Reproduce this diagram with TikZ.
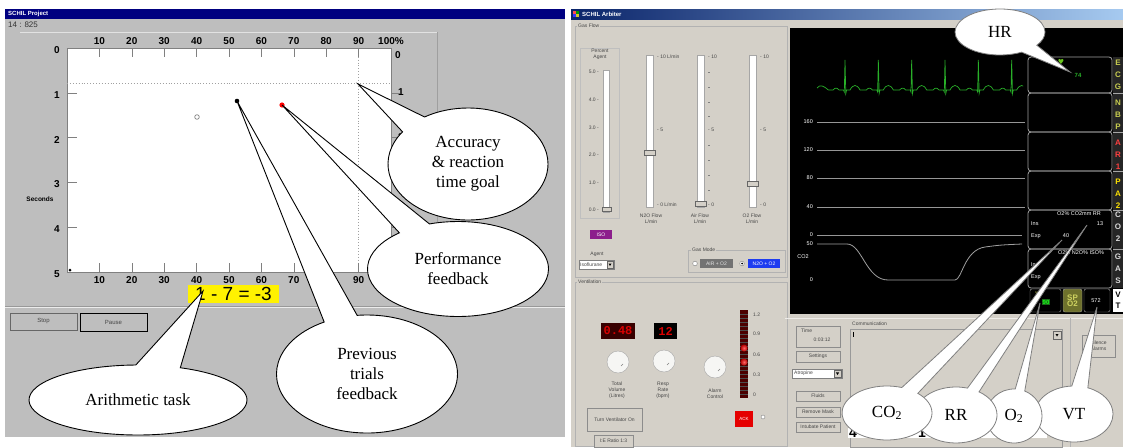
\documentclass[tikz,border=0pt]{standalone}
\usepackage{fontspec}
\setmainfont{Liberation Serif}
\setsansfont{Liberation Sans}
\setmonofont{Liberation Mono}
\newfontfamily\dejavu{DejaVu Sans}
\usetikzlibrary{shapes.callouts,shapes.geometric}
\definecolor{lpan}{RGB}{190,190,190}
\definecolor{rpan}{RGB}{212,208,200}
\definecolor{navy}{RGB}{0,0,128}
\definecolor{tbl}{RGB}{10,36,106}
\definecolor{tbr}{RGB}{166,202,240}
\definecolor{ecg}{RGB}{40,175,40}
\definecolor{dsh}{RGB}{160,160,160}
\definecolor{lbl}{RGB}{70,70,70}
\definecolor{olv}{RGB}{200,205,80}
\definecolor{isoc}{RGB}{140,30,140}
\definecolor{nbl}{RGB}{30,60,240}
\definecolor{monl}{RGB}{150,150,150}
\tikzset{
  tb/.style={font=\sffamily\bfseries\fontsize{6}{7}\selectfont, text=white, inner sep=0pt},
  axl/.style={font=\sffamily\bfseries\fontsize{10}{11}\selectfont, inner sep=0pt},
  ui/.style={font=\sffamily\fontsize{5}{6}\selectfont, text=lbl, inner sep=0pt, align=center},
  mon/.style={font=\sffamily\fontsize{5.5}{6}\selectfont, text=white, inner sep=0pt},
  monlet/.style={font=\sffamily\bfseries\fontsize{8}{8}\selectfont, inner sep=0pt},
  lbtn/.style={fill=lpan, draw=gray!80!black, font=\sffamily\fontsize{6}{7}\selectfont, text=lbl, inner sep=0pt},
  rbtn/.style={fill=rpan, draw=gray!90, font=\sffamily\fontsize{5}{6}\selectfont, text=lbl, inner sep=0pt, align=center},
  track/.style={fill=white, draw=gray!70},
  thumb/.style={fill=rpan, draw=gray!80!black},
  bcall/.style={ellipse callout, draw=black, line width=0.9pt, fill=white, inner sep=0pt, align=center,
    font=\fontsize{17}{20}\selectfont, callout pointer arc=22},
  gcall/.style={ellipse callout, draw=gray, line width=0.8pt, fill=white, inner sep=0pt, align=center,
    font=\fontsize{17}{20}\selectfont, callout pointer arc=20},
}
\begin{document}
\begin{tikzpicture}[x=1pt,y=-1pt]
\useasboundingbox (0,0) rectangle (1123,447);
\fill[white] (0,0) rectangle (1123,447);

% ================= LEFT PANEL =================
\fill[lpan] (5,9) rectangle (565,437);
\fill[navy] (5,9) rectangle (565,19);
\node[tb, anchor=west] (ltitle) at (8,14) {SCHIL Project};
\node[font=\sffamily\fontsize{8}{9}\selectfont, inner sep=0pt, anchor=west, text=black!80] (ltime) at (8,25) {14 : 825};
\draw[white!55!lpan] (20,32) -- (437,32);
\draw[gray!75] (437,32) -- (437,306);
\draw[gray!80] (5,306) -- (565,306);
\draw[white!70!lpan] (5,307.5) -- (565,307.5);

% plot
\fill[white] (67,48) rectangle (391,272);
\draw[gray, line width=0.8pt] (67,48) rectangle (391,272);
\draw[dsh, dotted, line width=0.9pt] (67,83) -- (391,83);
\draw[dsh, dotted, line width=0.9pt] (358,48) -- (358,272);
\foreach \k [evaluate=\k as \v using int(10*\k)] in {1,...,9} {
  \draw[gray] ({67+32.4*\k},48) -- ++(0,9);
  \draw[gray] ({67+32.4*\k},272) -- ++(0,-9);
  \node[axl] (tl\k) at ({67+32.4*\k},41) {\v};
  \node[axl] (bl\k) at ({67+32.4*\k},280) {\v};
}
\node[axl] (tl10) at (391,41) {100\%};
\foreach \s in {1,...,4} {
  \draw[gray] (67,{48+44.8*\s}) -- ++(10,0);
  \draw[gray] (391,{48+44.8*\s}) -- ++(9,0);
}
\foreach \s in {0,...,5} {
  \node[axl] (ll\s) at (57,{50+44.8*\s}) {\s};
}
\node[axl] (rl0) at (398,55) {0};
\node[axl] (rl1) at (401,92) {1};
\node[axl] (rl2) at (401,137) {2};
\node[font=\sffamily\bfseries\fontsize{6.5}{7}\selectfont, inner sep=0pt] (secs) at (40,199) {Seconds};
\fill[black] (70,270) circle (1.5);

% data points
\draw[gray, line width=0.7pt] (197,117) circle (2.3);
\fill[black] (237,101) circle (2.3);
\fill[red] (282,105) circle (2.6);
\coordinate (goal) at (358,84);
\coordinate (redpt) at (282,105);
\coordinate (blkpt) at (237,101);

% arithmetic task
\node[fill=yellow, minimum width=91, minimum height=18, inner sep=0pt,
      font=\sffamily\fontsize{19}{19}\selectfont] (task) at (233.5,294) {1 - 7 = -3};
\coordinate (tasktip) at (203,291);

% buttons
\node[lbtn, minimum width=67, minimum height=17] (stop) at (43.5,321.5) {Stop};
\node[lbtn, draw=black, line width=0.9pt, minimum width=67, minimum height=18] (pause) at (113.5,322) {Pause};

% ================= RIGHT PANEL =================
\fill[rpan] (571,9) rectangle (1123,447);
\shade[left color=tbl, right color=tbr] (571,9) rectangle (1123,19);
\fill[red!70] (573,11) rectangle (576,14);
\fill[green!60!black] (576,11) rectangle (579,14);
\fill[blue!80] (573,14) rectangle (576,17);
\fill[yellow!80!black] (576,14) rectangle (579,17);
\node[tb, anchor=west] (rtitle) at (582,14) {SCHIL Arbiter};

% gas flow group
\draw[gray!60] (575,26) rectangle (787,277);
\node[ui, fill=rpan, anchor=west, inner xsep=1pt] (gasflow) at (577,26) {Gas Flow};
\draw[gray!50] (580,48) rectangle (619,218);
\node[ui] (pagent) at (600,54.5) {Percent\\Agent};
\fill[track] (603,70) rectangle (609,212);
\draw[thumb] (602,207) rectangle (611,211);
\foreach \v/\yy in {5.0/72,4.0/100,3.0/128,2.0/155,1.0/183,0.0/210} {
  \node[ui, anchor=east] (pa\yy) at (599,\yy) {\v\ -};
}
% N2O
\fill[track] (646,55) rectangle (653,207);
\draw[thumb] (644,150) rectangle (655,155);
\node[ui, anchor=west] (n10) at (657,57) {- 10 L/min};
\node[ui, anchor=west] (n5) at (657,130) {- 5};
\node[ui, anchor=west] (n0) at (657,205) {- 0 L/min};
\node[ui] (nlab) at (651,219) {N2O Flow\\L/min};
% Air
\fill[track] (697,55) rectangle (704,207);
\draw[thumb] (695,201) rectangle (706,206);
\node[ui, anchor=west] (a10) at (708,57) {- 10};
\node[ui, anchor=west] (a5) at (708,130) {- 5};
\node[ui, anchor=west] (a0) at (708,205) {- 0};
\foreach \yy in {72,87,102,116,145,160,175,190} { \fill[gray] (708,\yy) rectangle (710,{\yy+0.8}); }
\node[ui] (alab) at (700,219) {Air Flow\\L/min};
% O2
\fill[track] (749,55) rectangle (756,207);
\draw[thumb] (747,181) rectangle (758,186);
\node[ui, anchor=west] (o10) at (760,57) {- 10};
\node[ui, anchor=west] (o5) at (760,130) {- 5};
\node[ui, anchor=west] (o0) at (760,205) {- 0};
\node[ui] (olab) at (752,219) {O2 Flow\\L/min};

\node[fill=isoc, minimum width=22, minimum height=9, inner sep=0pt,
      font=\sffamily\fontsize{5}{6}\selectfont, text=white] (iso) at (601,234.5) {ISO};
\node[ui] (agent) at (597,254) {Agent};
\node[draw=gray, fill=white, minimum width=35, minimum height=9, inner sep=0pt] (agentdd) at (596.5,264.5) {};
\node[ui, anchor=west] (isofl) at (580,264.5) {Isoflurane};
\draw[thumb] (607,261) rectangle (613,268);
\fill[black] (608.5,263.5) -- (611.5,263.5) -- (610,266) -- cycle;

\draw[gray!60] (688,250) rectangle (785,272);
\node[ui, fill=rpan, anchor=west, inner xsep=1pt] (gasmode) at (691,250) {Gas Mode};
\draw[gray, fill=white] (695,263.5) circle (2.3);
\draw[gray, fill=white] (742,263.5) circle (2.3);
\fill[black] (742,263.5) circle (1);
\node[fill=gray!90!black, minimum width=33, minimum height=9, inner sep=0pt,
      font=\sffamily\fontsize{5}{6}\selectfont, text=white!80!gray] (airo2) at (716.5,263.5) {AIR + O2};
\node[fill=nbl, minimum width=32, minimum height=9, inner sep=0pt,
      font=\sffamily\fontsize{5}{6}\selectfont, text=white] (n2oo2) at (764,263.5) {N2O + O2};

% ventilation group
\draw[gray!60] (575,282) rectangle (787,446);
\node[ui, fill=rpan, anchor=west, inner xsep=1pt] (ventl) at (577,282) {Ventilation};
\node[fill=red!22!black, minimum width=34, minimum height=16, inner sep=0pt,
      font=\ttfamily\bfseries\fontsize{12}{12}\selectfont, text=red!85!black] (tvdisp) at (618,331) {0.48};
\node[fill=black, minimum width=23, minimum height=16, inner sep=0pt,
      font=\ttfamily\bfseries\fontsize{12}{12}\selectfont, text=red!85!black] (rrdisp) at (665.5,331) {12};
\foreach \cx/\cy/\nm in {618/362/k1,664/361/k2,715/367/k3} {
  \draw[gray!70, fill=white!80!rpan] (\cx,\cy) coordinate (\nm) circle (11);
  \draw[gray] ({\cx+3},{\cy+4}) -- ({\cx+5},{\cy+2});
}
\node[ui] (tvlab) at (617,390) {Total\\Volume\\(Litres)};
\node[ui] (rrlab) at (663,390) {Resp\\Rate\\(bpm)};
\node[ui] (allab) at (715,393.5) {Alarm\\Control};
\fill[red!30!black] (740,310) rectangle (748,398);
\foreach \yy in {314,318,...,394} { \draw[black!70, line width=0.3pt] (740,\yy) -- (748,\yy); }
\shade[inner color=red!60!white, outer color=red!70!black] (744,348) circle (3.5);
\shade[inner color=red!60!white, outer color=red!70!black] (744,362) circle (3.5);
\foreach \v/\yy in {1.2/315,0.9/334,0.6/355,0.3/375,0/395} {
  \node[ui, anchor=west] (led\yy) at (753,\yy) {\v};
}
\node[fill=red!90!black, minimum width=18, minimum height=16, inner sep=0pt,
      font=\sffamily\fontsize{4.5}{5}\selectfont, text=white] (ack) at (744,419) {ACK};
\draw[gray, fill=white] (763,417) circle (2);
\node[rbtn, minimum width=55, minimum height=23] (tvon) at (614.5,419.5) {Turn Ventilator On};
\node[rbtn, minimum width=39, minimum height=12] (ieratio) at (613.5,441) {I:E Ratio 1:3};

% middle column under monitor
\draw[white!60!rpan] (785,318) -- (1123,318);
\node[rbtn, minimum width=44, minimum height=21] (timeb) at (818,336.5) {};
\node[ui, anchor=west] (timet) at (801,331) {Time};
\node[ui] (timev) at (822,340) {0:03:12};
\node[rbtn, minimum width=44, minimum height=11] (sett) at (818,356.5) {Settings};
\node[draw=gray, fill=white, minimum width=50, minimum height=9, inner sep=0pt] (atro) at (817,373.5) {};
\node[ui, anchor=west] (atrot) at (794,373.5) {Atropine};
\draw[thumb] (834,370) rectangle (841,377);
\fill[black] (835.8,372.3) -- (839.2,372.3) -- (837.5,375) -- cycle;
\node[rbtn, minimum width=44, minimum height=10] (fluid) at (818,396) {Fluids};
\node[rbtn, minimum width=44, minimum height=10] (rmask) at (818,412) {Remove Mask};
\node[rbtn, minimum width=44, minimum height=10] (intub) at (818,427) {Intubate Patient};

% communication
\draw[gray!80] (850,329) rectangle (1062,447);
\node[ui, anchor=west] (comm) at (852,324) {Communication};
\draw[thumb] (1053,331) rectangle (1061,339);
\fill[black] (1055.5,334) -- (1058.5,334) -- (1057,336.5) -- cycle;
\draw[black] (853,332) -- (853,337);
\fill[white] (848,428) rectangle (1047,438);
\begin{scope}
  \clip (848,428) rectangle (1047,438);
  \node[font=\sffamily\bfseries\fontsize{14}{14}\selectfont, anchor=base west, inner sep=0pt] (big4) at (849,437) {4};
  \node[font=\sffamily\bfseries\fontsize{14}{14}\selectfont, anchor=base west, inner sep=0pt] (big11) at (918,437) {1 1};
\end{scope}
\draw[gray!60] (1070,318) -- (1070,447);
\node[rbtn, minimum width=33, minimum height=22] (silence) at (1098.5,346) {Silence\\Alarms};

% ================= MONITOR =================
\fill[black] (790,28) rectangle (1123,314);
\begin{scope}
  \clip (810,40) rectangle (1023,100);
  \draw[ecg, line width=0.7pt] (817,88) .. controls (820,84) and (824,86) .. (828.33,90);
  \foreach \x in {845,878.33,911.67,945,978.33,1011.67} {
    \draw[ecg, line width=0.7pt] ({\x-16.67},90) -- ({\x-12},90)
      .. controls ({\x-10},87.5) and ({\x-8},87.5) .. ({\x-6},90) -- ({\x-1.5},90)
      -- ({\x-0.7},92) -- (\x,60) -- ({\x+0.8},93.5) -- ({\x+1.6},90) -- ({\x+5},90)
      .. controls ({\x+8},84) and ({\x+12},84) .. ({\x+15},90) -- ({\x+16.67},90);
  }
\end{scope}
\foreach \yy/\t in {122/160,150/120,178/80,207/40} {
  \draw[monl, line width=0.7pt] (817,\yy) -- (1025,\yy);
  \node[mon, anchor=east] (g\t) at (813,\yy) {\t};
}
\draw[monl, line width=0.7pt] (817,235) -- (1022,235);
\node[mon, anchor=east] (c0a) at (813,235) {0};
\node[mon, anchor=east] (c50) at (813,244) {50};
\node[mon] (co2l) at (803,257) {CO2};
\node[mon, anchor=east] (c0b) at (813,280) {0};
\draw[monl!90!white, line width=0.8pt] (817,244) -- (847,244)
  .. controls (862,244) and (866,280) .. (888,280) -- (955,280)
  .. controls (962,280) and (964,250) .. (985,247) .. controls (1000,245) .. (1022,244);

% right column boxes
\foreach \ya/\yb in {57/93,93/132,132/171,171/210,210/249,249/288} {
  \draw[gray!75, line width=0.8pt, rounded corners=3pt] (1028,\ya) rectangle (1112,\yb);
}
\fill[gray!30!black] (1113,57) rectangle (1123,288);
\foreach \yy in {93,132,171,210,249} { \draw[gray!70] (1113,\yy) -- (1123,\yy); }
\foreach \l/\yy/\c in {E/63/olv,C/75/olv,G/87/olv,N/103/olv,B/115/olv,P/127/olv,
  A/143/red!75,R/155/red!75,1/167/red!75,P/182/yellow!85!orange,A/194/yellow!85!orange,2/206/yellow!85!orange,
  C/215/gray!30,O/227/gray!30,2/239/gray!30,G/257/gray!30,A/269/gray!30,S/281/gray!30} {
  \node[monlet, text=\c] at (1118,\yy) {\l};
}
\fill[white] (1113,289) rectangle (1123,312);
\node[monlet, text=black] (vtv1) at (1118,295) {V};
\node[monlet, text=black] (vtv2) at (1118,306) {T};
% HR box content
\node[font=\dejavu\fontsize{7}{7}\selectfont, text=ecg!70!yellow, inner sep=0pt] (heart) at (1061,62) {♥};
\node[font=\sffamily\bfseries\fontsize{6}{6}\selectfont, text=ecg, inner sep=0pt] (hrval) at (1078,75) {74};
% CO2 box content
\node[mon] (co2h) at (1079,214) {O2\% CO2mm RR};
\node[mon, anchor=west] (co2ins) at (1031,224) {Ins};
\node[mon] (co2rr) at (1100,224) {13};
\node[mon, anchor=west] (co2exp) at (1031,236) {Exp};
\node[mon] (co2ex) at (1066,236) {40};
% GAS box content
\node[mon] (gash) at (1081,253) {O2\% N2O\% ISO\%};
\node[mon, anchor=west] (gasins) at (1031,265) {Ins};
\node[mon, anchor=west] (gasexp) at (1031,277) {Exp};
% bottom small boxes
\draw[gray!75, rounded corners=2pt] (1030,289) rectangle (1061,312);
\node[font=\sffamily\fontsize{4}{4}\selectfont, text=olv, inner sep=0pt] (spo2s) at (1037,293) {\%};
\node[fill=ecg!60!black, font=\sffamily\bfseries\fontsize{6}{6}\selectfont, text=green!90!white, inner sep=1pt] (spo2v) at (1046,302) {90};
\draw[gray!75, fill=olv!55!black, rounded corners=2pt] (1063,289) rectangle (1082,312);
\node[font=\sffamily\bfseries\fontsize{8}{8}\selectfont, text=olv!90!white, inner sep=0pt, align=center] (spo2l) at (1072.5,300.5) {SP\\[-1.5pt]O2};
\draw[gray!75, rounded corners=2pt] (1084,289) rectangle (1110,312);
\node[mon] (vtval) at (1096,301) {572};

% ================= CALLOUTS =================
\coordinate (hrtip) at (1070,72);
\coordinate (co2tip) at (1062,240);
\coordinate (rrtip) at (1087,225);
\coordinate (o2tip) at (1040,303);
\coordinate (vttip) at (1097,307);

\node[bcall, callout pointer arc=24, minimum width=218, minimum height=70, callout absolute pointer=(tasktip)] (arith) at (138,400) {Arithmetic task};
\node[bcall, callout pointer arc=22, minimum width=160, minimum height=112, callout absolute pointer=(goal)] (acc) at (468,164) {Accuracy\\\& reaction\\time goal};
\node[bcall, callout pointer arc=22, minimum width=181, minimum height=95, callout absolute pointer=(redpt)] (perf) at (458,269) {Performance\\feedback};
\node[bcall, callout pointer arc=22, minimum width=181, minimum height=118, callout absolute pointer=(blkpt)] (prev) at (367,374) {Previous\\trials\\feedback};

\node[gcall, minimum width=90, minimum height=46, callout pointer arc=26, callout absolute pointer=(hrtip)] (hr) at (1000,32) {HR};
\node[gcall, callout pointer arc=24, minimum width=78, minimum height=56, callout absolute pointer=(vttip)] (vt) at (1074,414) {VT};
\node[gcall, callout pointer arc=20, minimum width=56, minimum height=54, callout absolute pointer=(o2tip)] (o2) at (1014,416) {O\textsubscript{2}};
\node[gcall, callout pointer arc=18, minimum width=82, minimum height=56, callout absolute pointer=(rrtip)] (rr) at (956,415) {RR};
\node[gcall, callout pointer arc=24, minimum width=90, minimum height=54, callout absolute pointer=(co2tip)] (co2) at (887,413) {CO\textsubscript{2}};
\end{tikzpicture}
\end{document}
